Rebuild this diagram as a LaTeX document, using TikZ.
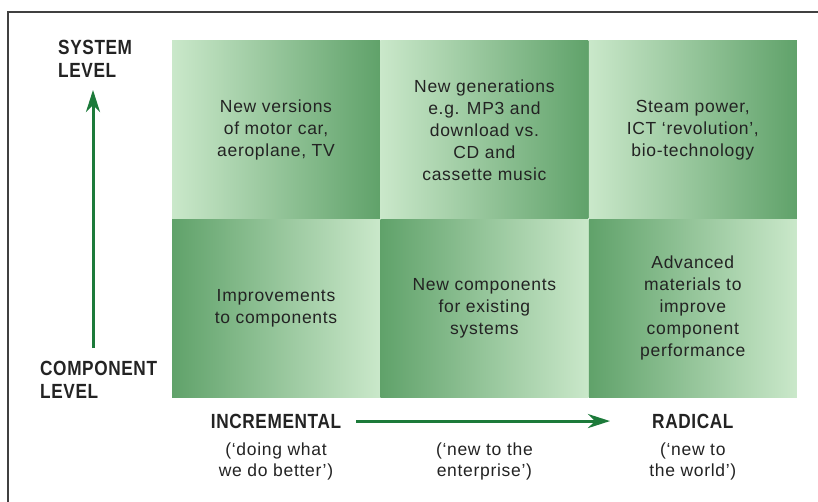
\documentclass[tikz,border=0pt]{standalone}
\usepackage{fontspec}
\setmainfont{Liberation Sans}[LetterSpace=4]
\newfontfamily\headfont{Liberation Sans}[FakeStretch=0.84,LetterSpace=3]
\usepackage{tikz}
\usetikzlibrary{arrows.meta,positioning}

\definecolor{gdark}{RGB}{96,162,106}
\definecolor{glight}{RGB}{202,232,202}
\definecolor{garrow}{RGB}{28,122,58}
\definecolor{ink}{RGB}{35,35,35}

\begin{document}
\begin{tikzpicture}[
    x=1pt, y=-1pt,
    node distance=0pt,
    cell/.style={rectangle, minimum width=208pt, minimum height=178pt, inner sep=0pt, align=center, text=ink, font=\fontsize{17.5}{22}\selectfont},
    upcell/.style={cell, left color=glight, right color=gdark},
    lowcell/.style={cell, left color=gdark, right color=glight},
    lvl/.style={font=\headfont\bfseries\fontsize{20.5}{23}\selectfont, text=ink, inner sep=0pt, align=left},
    note/.style={font=\fontsize{17.5}{21}\selectfont, text=ink, inner sep=0pt, align=center},
    arrow/.style={-{Stealth[length=22pt,width=14pt,inset=7pt]}, line width=3pt, garrow}
]
\path[fill=white, use as bounding box] (0,0) rectangle (818,502);
\draw[line width=1.5pt, black!75] (8,502) |- (818,12);

% the six cells
\node[upcell] (tl) at (276,130) {New versions\\of motor car,\\aeroplane, TV};
\node[upcell, right=of tl] (tm) {New generations\\e.g. MP3 and\\download vs.\\CD and\\cassette music};
\node[upcell, right=of tm] (tr) {Steam power,\\ICT `revolution',\\bio-technology};
\node[lowcell, below=of tl] (bl) {Improvements\\to components};
\node[lowcell, below=of tm] (bm) {New components\\for existing\\systems};
\node[lowcell, below=of tr] (br) {Advanced\\materials to\\improve\\component\\performance};

% axis labels
\node[lvl, anchor=north west] (syslvl) at (58,40) {SYSTEM\\LEVEL};
\node[lvl, anchor=north west] (complvl) at (40,361) {COMPONENT\\LEVEL};
\node[lvl, below=16pt of bl] (incr) {INCREMENTAL};
\node[lvl, below=16pt of br] (rad) {RADICAL};
\node[note, below=14pt of incr] (incrnote) {(`doing what\\we do better')};
\node[note] (entnote) at (incrnote -| bm) {(`new to the\\enterprise')};
\node[note] (radnote) at (incrnote -| br) {(`new to\\the world')};

\coordinate (vbot) at (93,348);
\coordinate (vtop) at (93,90);
\draw[arrow] (vbot) -- (vtop);
\draw[arrow, shorten <=15pt, shorten >=42pt] (incr.east) -- (rad.west);

\end{tikzpicture}
\end{document}
